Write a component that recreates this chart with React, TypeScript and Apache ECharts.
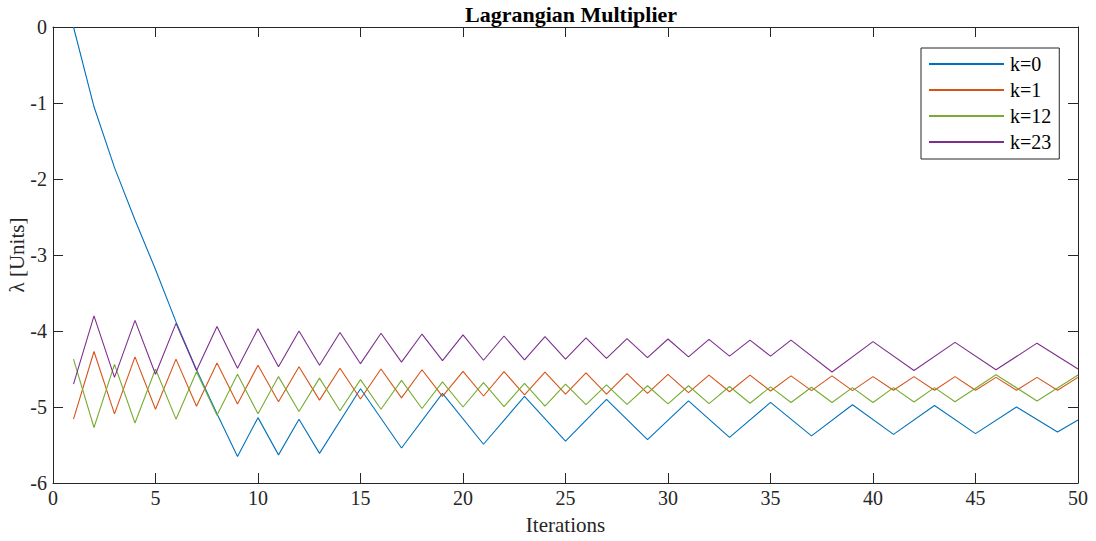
import React, { useEffect, useRef } from "react";
import * as echarts from "echarts";

const seriesNames = ["k=0", "k=1", "k=12", "k=23"];
const seriesColors = ["#0072BD", "#D95319", "#77AC30", "#7E2F8E"];

const xTicks = [0, 5, 10, 15, 20, 25, 30, 35, 40, 45, 50];
const yTicks = [-6, -5, -4, -3, -2, -1, 0];

const allIters = [1, 2, 3, 4, 5, 6, 7, 8, 9, 10, 11, 12, 13, 14, 15, 16, 17, 18, 19, 20, 21, 22, 23, 24, 25, 26, 27, 28, 29, 30, 31, 32, 33, 34, 35, 36, 37, 38, 39, 40, 41, 42, 43, 44, 45, 46, 47, 48, 49, 50];

const k0X = [1, 2, 3, 4, 5, 6, 7, 8, 9, 10, 11, 12, 13, 15, 17, 19, 21, 23, 25, 27, 29, 31, 33, 35, 37, 39, 41, 43, 45, 47, 49, 50];
const k0Y = [0, -1.05, -1.85, -2.54, -3.19, -3.88, -4.51, -5.09, -5.65, -5.14, -5.63, -5.16, -5.61, -4.76, -5.54, -4.82, -5.49, -4.86, -5.45, -4.9, -5.43, -4.92, -5.4, -4.94, -5.38, -4.97, -5.36, -4.98, -5.35, -5.0, -5.33, -5.17];

const k1X = allIters;
const k1Y = [-5.16, -4.27, -5.09, -4.34, -5.03, -4.37, -4.99, -4.42, -4.96, -4.45, -4.93, -4.47, -4.91, -4.49, -4.895, -4.5, -4.88, -4.51, -4.86, -4.53, -4.855, -4.535, -4.84, -4.54, -4.83, -4.55, -4.83, -4.56, -4.82, -4.57, -4.81, -4.58, -4.8, -4.58, -4.79, -4.59, -4.785, -4.59, -4.785, -4.6, -4.78, -4.6, -4.78, -4.6, -4.78, -4.61, -4.78, -4.61, -4.78, -4.61];

const k12X = [1, 2, 3, 4, 5, 6, 7, 8, 9, 10, 11, 12, 13, 14, 15, 16, 17, 18, 19, 20, 21, 22, 23, 24, 25, 26, 27, 28, 29, 30, 31, 32, 33, 34, 35, 36, 37, 38, 39, 40, 41, 42, 43, 44, 46, 48, 50];
const k12Y = [-4.37, -5.27, -4.44, -5.21, -4.5, -5.16, -4.535, -5.11, -4.57, -5.09, -4.6, -5.06, -4.62, -5.05, -4.64, -5.03, -4.65, -5.02, -4.67, -5.0, -4.68, -4.995, -4.69, -4.99, -4.7, -4.97, -4.71, -4.965, -4.72, -4.96, -4.72, -4.955, -4.73, -4.95, -4.735, -4.94, -4.74, -4.94, -4.745, -4.94, -4.745, -4.935, -4.745, -4.93, -4.575, -4.92, -4.58];

const k23X = [1, 2, 3, 4, 5, 6, 7, 8, 9, 10, 11, 12, 13, 14, 15, 16, 17, 18, 19, 20, 21, 22, 23, 24, 25, 26, 27, 28, 29, 30, 31, 32, 33, 34, 35, 36, 38, 40, 42, 44, 46, 48, 50];
const k23Y = [-4.7, -3.8, -4.61, -3.86, -4.57, -3.9, -4.52, -3.94, -4.49, -3.97, -4.47, -4.0, -4.45, -4.02, -4.43, -4.03, -4.41, -4.04, -4.39, -4.05, -4.385, -4.066, -4.38, -4.075, -4.37, -4.09, -4.36, -4.1, -4.35, -4.105, -4.34, -4.11, -4.33, -4.12, -4.33, -4.12, -4.54, -4.14, -4.52, -4.15, -4.51, -4.16, -4.5];

const seriesX = [k0X, k1X, k12X, k23X];
const seriesY = [k0Y, k1Y, k12Y, k23Y];

const FONT = "'Liberation Serif', 'Times New Roman', serif";
const AX = "#262626";

export default function App() {
  const ref = useRef<HTMLDivElement>(null);
  useEffect(() => {
    document.body.style.margin = "0";
    if (!ref.current) return;
    const chart = echarts.init(ref.current, null, { renderer: "svg" });
    const axisCommon = {
      type: "value" as const,
      axisLine: { show: true, onZero: false, lineStyle: { color: AX, width: 1 } },
      axisTick: { show: true, inside: true, length: 10, lineStyle: { color: AX, width: 1 } },
      splitLine: { show: false },
    };
    chart.setOption({
      animation: false,
      backgroundColor: "#ffffff",
      title: {
        text: "Lagrangian Multiplier",
        left: 566,
        textAlign: "center",
        top: -2,
        textStyle: { fontFamily: FONT, fontSize: 22, fontWeight: "bold", color: "#000" },
      },
      legend: {
        data: seriesNames,
        orient: "vertical",
        left: 921,
        top: 48,
        itemWidth: 75,
        itemHeight: 14,
        itemGap: 6,
        padding: [6, 8, 7, 7],
        borderColor: AX,
        borderWidth: 1,
        backgroundColor: "#fff",
        itemStyle: { opacity: 0 },
        textStyle: { fontFamily: FONT, fontSize: 20, color: "#000", padding: [0, 0, 0, 1] },
      },
      grid: { left: 53, top: 27, width: 1025, height: 456, containLabel: false, outerBoundsMode: "none" },
      xAxis: [
        {
          ...axisCommon,
          min: 0,
          max: 50,
          interval: 5,
          position: "bottom",
          name: "Iterations",
          nameLocation: "middle",
          nameGap: 31,
          nameMoveOverlap: false,
          nameTextStyle: { fontFamily: FONT, fontSize: 21, color: AX },
          axisLabel: { fontFamily: FONT, fontSize: 20, color: AX, margin: 5, customValues: xTicks },
        },
        {
          ...axisCommon,
          min: 0,
          max: 50,
          interval: 5,
          position: "top",
          axisLabel: { show: false },
        },
      ],
      yAxis: [
        {
          ...axisCommon,
          min: -6,
          max: 0,
          interval: 1,
          position: "left",
          name: "λ [Units]",
          nameLocation: "middle",
          nameGap: 26,
          nameMoveOverlap: false,
          nameTextStyle: { fontFamily: FONT, fontSize: 21, color: AX },
          axisLabel: { fontFamily: FONT, fontSize: 20, color: AX, margin: 6, customValues: yTicks },
        },
        {
          ...axisCommon,
          min: -6,
          max: 0,
          interval: 1,
          position: "right",
          axisLabel: { show: false },
        },
      ],
      series: seriesNames.map((name, i) => ({
        name,
        type: "line",
        xAxisIndex: 0,
        yAxisIndex: 0,
        symbol: "none",
        showSymbol: false,
        lineStyle: { color: seriesColors[i], width: 1.1 },
        itemStyle: { color: seriesColors[i] },
        data: seriesX[i].map((x, j) => [x, seriesY[i][j]]),
        z: 2 + i,
      })),
    });
    return () => chart.dispose();
  }, []);
  return <div ref={ref} style={{ width: 1096, height: 541 }} />;
}
